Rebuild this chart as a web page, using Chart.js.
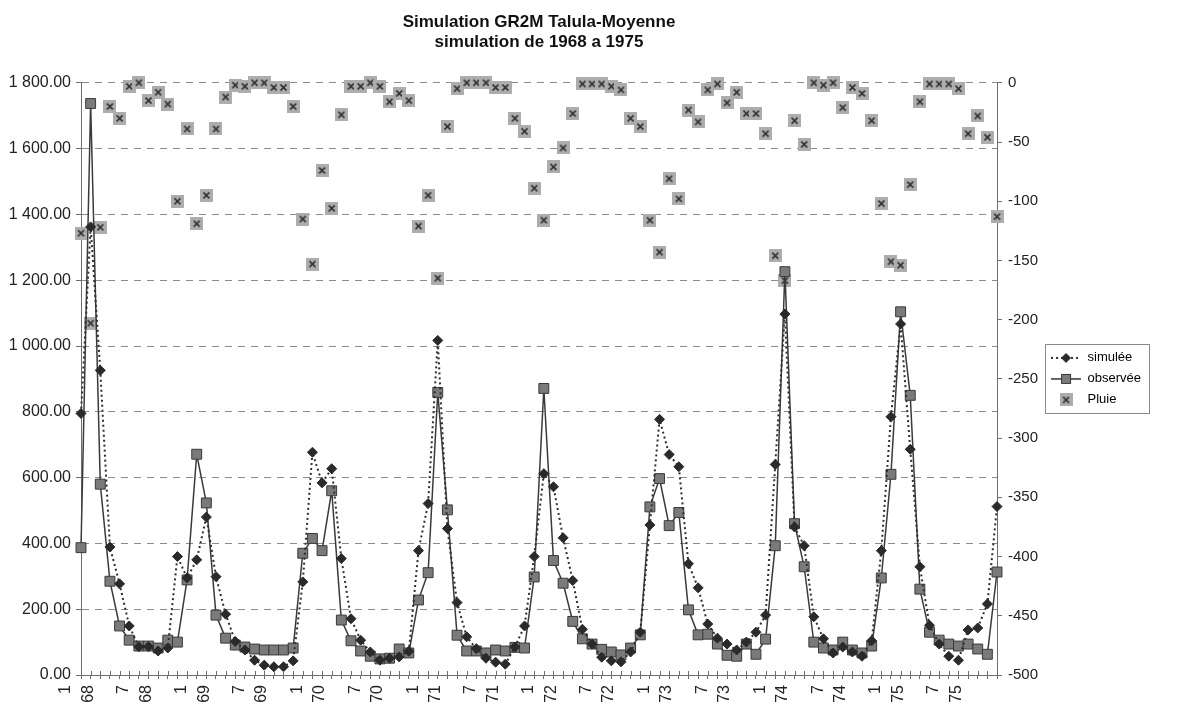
<!DOCTYPE html>
<html>
<head>
<meta charset="utf-8">
<script src="https://cdn.jsdelivr.net/npm/chart.js@4.4.1/dist/chart.umd.min.js"></script>
<style>
  html, body { margin: 0; padding: 0; background: #fff; }
  canvas { display: block; }
</style>
</head>
<body>
<canvas id="chart" width="1184" height="714"></canvas>
<script>
// categories: monthly steps, 1968 to 1975
const years = ['68', '69', '70', '71', '72', '73', '74', '75'];
const months = ['1', '2', '3', '4', '5', '6', '7', '8', '9', '10', '11', '12'];
const labeledMonths = ['1', '7'];

// simulated discharge (left axis)
const simulee = [
    795, 1362, 926, 389, 277, 149, 86, 86, 73, 82, 360, 295,
    350, 480, 299, 185, 102, 76, 45, 30, 25, 25, 43, 283,
    677, 584, 627, 354, 171, 106, 70, 45, 51, 55, 72, 378,
    521, 1017, 445, 220, 116, 80, 51, 39, 33, 85, 149, 360,
    612, 572, 417, 287, 139, 94, 54, 43, 40, 70, 130, 456,
    777, 670, 633, 338, 265, 155, 112, 94, 76, 100, 130, 182,
    640, 1097, 450, 393, 177, 110, 67, 85, 70, 57, 104, 378,
    785, 1067, 686, 329, 151, 94, 57, 45, 137, 143, 216, 512
];

// observed discharge (left axis)
const observee = [
    387, 1737, 580, 285, 149, 106, 88, 88, 82, 106, 100, 289,
    671, 523, 182, 112, 91, 85, 79, 76, 76, 76, 82, 370,
    415, 378, 560, 167, 104, 73, 57, 49, 51, 79, 67, 228,
    311, 859, 502, 121, 73, 73, 67, 76, 73, 84, 82, 298,
    871, 348, 279, 163, 110, 94, 78, 70, 61, 82, 122, 511,
    597, 454, 494, 198, 122, 124, 94, 60, 57, 94, 63, 109,
    393, 1226, 460, 329, 100, 82, 76, 100, 76, 67, 88, 295,
    610, 1104, 850, 261, 130, 106, 94, 88, 94, 79, 63, 313
];

// rainfall, plotted downward on the right axis
const pluie = [
    -127, -203, -122, -20, -30, -3, 0, -15, -8, -18, -100, -39,
    -119, -95, -39, -12, -2, -3, 0, 0, -4, -4, -20, -115,
    -153, -74, -106, -27, -3, -3, 0, -3, -16, -9, -15, -121,
    -95, -165, -37, -5, 0, 0, 0, -4, -4, -30, -41, -89,
    -116, -71, -55, -26, -1, -1, -1, -3, -6, -30, -37, -116,
    -143, -81, -98, -23, -33, -6, -1, -17, -8, -26, -26, -43,
    -146, -167, -32, -52, 0, -2, 0, -21, -4, -9, -32, -102,
    -151, -154, -86, -16, -1, -1, -1, -5, -43, -28, -46, -113
];

const FONT = "'Liberation Sans', Arial, sans-serif";
const AXIS = '#6e6e6e';

const categories = [];
years.forEach(y => months.forEach(m => categories.push([m, y])));

function fmtLeft(v) {
    const parts = Number(v).toFixed(2).split('.');
    return parts[0].replace(/\B(?=(\d{3})+$)/g, ' ') + '.' + parts[1];
}

// marker images
function pluieMarker() {
    const c = document.createElement('canvas');
    c.width = 13; c.height = 13;
    const g = c.getContext('2d');
    g.fillStyle = '#adadad';
    g.fillRect(0, 0, 13, 13);
    g.strokeStyle = '#2b2b2b';
    g.lineWidth = 1.7;
    g.beginPath();
    g.moveTo(3.5, 3.5); g.lineTo(9.5, 9.5);
    g.moveTo(9.5, 3.5); g.lineTo(3.5, 9.5);
    g.stroke();
    return c;
}

function legendLine(kind) {
    const c = document.createElement('canvas');
    c.width = 30; c.height = 12;
    const g = c.getContext('2d');
    g.strokeStyle = '#2e2e2e';
    g.beginPath();
    if (kind === 'dot') { g.setLineDash([2, 3]); g.lineWidth = 2; }
    else { g.lineWidth = 1.5; }
    g.moveTo(0, 6); g.lineTo(30, 6);
    g.stroke();
    g.setLineDash([]);
    if (kind === 'dot') {
        g.fillStyle = '#2a2a2a';
        g.beginPath();
        g.moveTo(15, 1); g.lineTo(20, 6); g.lineTo(15, 11); g.lineTo(10, 6);
        g.closePath(); g.fill();
    } else {
        g.fillStyle = '#7a7a7a';
        g.fillRect(10.5, 1.5, 9, 9);
        g.strokeStyle = '#3a3a3a'; g.lineWidth = 1;
        g.strokeRect(10.5, 1.5, 9, 9);
    }
    return c;
}

const pluieImg = pluieMarker();
const legendImgs = [legendLine('dot'), legendLine('solid'), pluieImg];

const legendBox = {
    id: 'legendBox',
    afterDraw(chart) {
        const lg = chart.legend;
        if (!lg || !lg.legendHitBoxes || !lg.legendHitBoxes.length) return;
        const hb = lg.legendHitBoxes;
        const l = Math.min(...hb.map(h => h.left)) - 6;
        const r = Math.max(...hb.map(h => h.left + h.width)) + 8;
        const t = Math.min(...hb.map(h => h.top)) - 7;
        const b = Math.max(...hb.map(h => h.top + h.height)) + 7;
        const ctx = chart.ctx;
        ctx.save();
        ctx.strokeStyle = '#8a8a8a';
        ctx.lineWidth = 1;
        ctx.strokeRect(Math.round(l) + 0.5, Math.round(t) + 0.5, Math.round(r - l), Math.round(b - t));
        ctx.restore();
    }
};

// tick marks crossing the category axis
const innerTicks = {
    id: 'innerTicks',
    afterDraw(chart) {
        const xs = chart.scales.x;
        const ctx = chart.ctx;
        ctx.save();
        ctx.strokeStyle = AXIS;
        ctx.lineWidth = 1;
        ctx.beginPath();
        for (let i = 0; i < xs.ticks.length; i++) {
            const x = Math.round(xs.getPixelForTick(i)) + 0.5;
            ctx.moveTo(x, xs.top);
            ctx.lineTo(x, xs.top - 4);
        }
        ctx.stroke();
        ctx.restore();
    }
};

new Chart(document.getElementById('chart'), {
    type: 'line',
    data: {
        labels: categories,
        datasets: [
            {
                label: 'simulée', data: simulee, yAxisID: 'y',
                borderColor: '#2e2e2e', borderWidth: 2, borderDash: [2, 3],
                pointStyle: 'rectRot', pointRadius: 5,
                pointBackgroundColor: '#2a2a2a', pointBorderColor: '#2a2a2a', pointBorderWidth: 1,
                tension: 0, clip: false
            },
            {
                label: 'observée', data: observee, yAxisID: 'y',
                borderColor: '#3a3a3a', borderWidth: 1.5,
                pointStyle: 'rect', pointRadius: 7,
                pointBackgroundColor: '#7a7a7a', pointBorderColor: '#3a3a3a', pointBorderWidth: 1,
                tension: 0, clip: false
            },
            {
                label: 'Pluie', data: pluie, yAxisID: 'y1',
                showLine: false, pointStyle: pluieImg, pointRadius: 6, clip: false
            }
        ]
    },
    options: {
        responsive: false,
        animation: false,
        devicePixelRatio: 1,
        events: [],
        layout: { padding: { left: 0, right: 33, top: 0, bottom: 0 } },
        plugins: {
            tooltip: { enabled: false },
            title: {
                display: true,
                text: ['Simulation GR2M Talula-Moyenne', 'simulation de 1968 a 1975'],
                color: '#111',
                font: { family: FONT, size: 17, weight: 'bold', lineHeight: 1.2 },
                padding: { top: 12, bottom: 30 },
                fullSize: false
            },
            legend: {
                position: 'right',
                align: 'center',
                fullSize: false,
                labels: {
                    usePointStyle: true,
                    pointStyleWidth: 30,
                    padding: 8,
                    color: '#222',
                    font: { family: FONT, size: 13 },
                    generateLabels(chart) {
                        return chart.data.datasets.map((ds, i) => ({
                            text: ds.label, pointStyle: legendImgs[i], datasetIndex: i,
                            fillStyle: '#fff', strokeStyle: '#fff', lineWidth: 0, hidden: false
                        }));
                    }
                }
            }
        },
        scales: {
            x: {
                type: 'category',
                offset: false,
                grid: { display: true, drawOnChartArea: false, drawTicks: true, tickLength: 4, color: AXIS },
                border: { display: true, color: AXIS },
                ticks: {
                    autoSkip: false, minRotation: 90, maxRotation: 90, padding: 6, labelOffset: -15,
                    color: '#222', font: { family: FONT, size: 16, lineHeight: 1.4 },
                    callback(value) {
                        const lab = this.getLabelForValue(value);
                        return labeledMonths.includes(lab[0]) ? lab : '';
                    }
                },
                afterFit(axis) { axis.height = 39; }
            },
            y: {
                position: 'left',
                min: 0, max: 1800,
                grid: { color: '#8c8c8c', tickColor: AXIS, tickLength: 5 },
                border: { display: true, color: AXIS, dash: [7, 6] },
                ticks: {
                    stepSize: 200, padding: 5, color: '#222',
                    font: { family: FONT, size: 16 },
                    callback: v => fmtLeft(v)
                },
                afterFit(axis) { axis.width = 81; }
            },
            y1: {
                position: 'right',
                min: -500, max: 0,
                grid: { drawOnChartArea: false, color: AXIS, tickLength: 5 },
                border: { display: true, color: AXIS },
                ticks: { stepSize: 50, padding: 6, color: '#222', font: { family: FONT, size: 15 } },
                afterFit(axis) { axis.width = 46; }
            }
        }
    },
    plugins: [legendBox, innerTicks]
});
</script>
</body>
</html>
